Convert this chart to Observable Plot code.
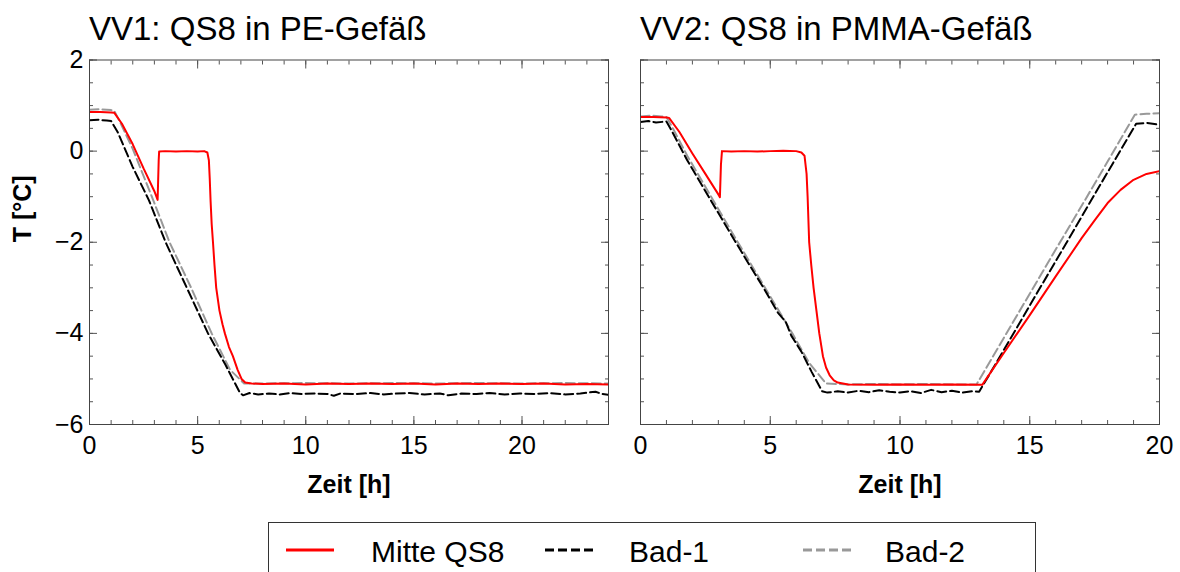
<!DOCTYPE html>
<html><head><meta charset="utf-8">
<script src="https://cdn.jsdelivr.net/npm/d3@7"></script>
<script src="https://cdn.jsdelivr.net/npm/@observablehq/plot@0.6"></script>
<style>
html,body{margin:0;padding:0;background:#fff;overflow:hidden;}
#wrap{position:relative;width:1180px;height:572px;font-family:"Liberation Sans",Arial,Helvetica,sans-serif;color:#000;}
.title{position:absolute;top:12px;font-size:33px;line-height:33px;white-space:nowrap;}
.panel{position:absolute;top:0;}
#legend{position:absolute;left:268px;top:522px;width:768px;height:70px;border:1px solid #333;box-sizing:border-box;}
.lg-text{position:absolute;top:13.6px;font-size:30px;line-height:30px;white-space:nowrap;}
.lg-sw{position:absolute;top:21.5px;}
</style></head>
<body><div id="wrap"></div>
<script>
const fontFamily = '"Liberation Sans", Arial, Helvetica, sans-serif';
const panelTitles = ["VV1: QS8 in PE-Gefäß", "VV2: QS8 in PMMA-Gefäß"];
const seriesNames = ["Mitte QS8", "Bad-1", "Bad-2"];
const seriesColors = ["#ff0000", "#000000", "#999999"];
const seriesDashes = [null, "9,4", "9,4"];
const xLabel = "Zeit [h]";
const yLabel = "T [°C]";

const yDomain = [-6, 2];
const yMajorTicks = [-6, -4, -2, 0, 2];
const yMinorTicks = [-6, -5.5, -5, -4.5, -4, -3.5, -3, -2.5, -2, -1.5, -1, -0.5, 0, 0.5, 1, 1.5, 2];

const vv1XDomain = [0, 24];
const vv1XMajorTicks = [0, 5, 10, 15, 20];
const vv1XMinorTicks = [0,1,2,3,4,5,6,7,8,9,10,11,12,13,14,15,16,17,18,19,20,21,22,23,24];
const vv2XDomain = [0, 20];
const vv2XMajorTicks = [0, 5, 10, 15, 20];
const vv2XMinorTicks = [0,1,2,3,4,5,6,7,8,9,10,11,12,13,14,15,16,17,18,19,20];

// VV1 [Zeit h, T °C]
const vv1Mitte = [[0,0.86],[0.5,0.86],[1.0,0.85],[1.15,0.84],[1.5,0.6],[2.0,0.15],[2.5,-0.38],[3.0,-0.88],[3.15,-1.07],[3.2,-0.2],[3.22,-0.01],[3.5,0.0],[4.0,-0.01],[4.5,0.0],[5.0,-0.01],[5.3,0.0],[5.45,-0.03],[5.52,-0.2],[5.56,-0.6],[5.6,-1.1],[5.65,-1.6],[5.71,-2.0],[5.78,-2.5],[5.86,-3.0],[6.01,-3.5],[6.15,-3.8],[6.26,-4.0],[6.45,-4.3],[6.63,-4.5],[6.85,-4.8],[7.03,-5.0],[7.2,-5.08],[7.5,-5.1],[8,-5.11],[9,-5.1],[10,-5.12],[11,-5.1],[12,-5.11],[13,-5.1],[14,-5.11],[15,-5.1],[16,-5.12],[17,-5.1],[18,-5.11],[19,-5.1],[20,-5.11],[21,-5.1],[22,-5.12],[23,-5.11],[24,-5.12]];
const vv1Bad1 = [[0,0.68],[0.4,0.69],[0.8,0.67],[1.0,0.66],[1.3,0.42],[2.0,-0.35],[2.75,-1.08],[3.52,-2.0],[4.5,-3.0],[5.48,-4.0],[6.3,-4.7],[6.95,-5.3],[7.1,-5.36],[7.4,-5.31],[7.8,-5.34],[8.3,-5.32],[8.8,-5.34],[9.3,-5.31],[9.8,-5.33],[10.4,-5.32],[11.0,-5.33],[11.3,-5.37],[11.6,-5.32],[12.3,-5.33],[13.0,-5.31],[13.6,-5.34],[14.2,-5.32],[14.8,-5.31],[15.5,-5.34],[16.2,-5.32],[16.6,-5.36],[17.2,-5.32],[17.9,-5.33],[18.5,-5.31],[19.2,-5.34],[19.9,-5.32],[20.6,-5.33],[21.3,-5.31],[22.0,-5.34],[22.7,-5.32],[23.4,-5.28],[23.7,-5.33],[24,-5.35]];
const vv1Bad2 = [[0,0.91],[0.5,0.92],[1.0,0.9],[1.15,0.88],[1.45,0.6],[2.0,0.05],[2.95,-1.08],[3.7,-2.0],[4.7,-3.0],[5.65,-4.0],[6.5,-4.8],[7.15,-5.1],[8,-5.1],[10,-5.09],[12,-5.1],[14,-5.09],[16,-5.1],[18,-5.09],[20,-5.1],[22,-5.09],[24,-5.1]];

// VV2 [Zeit h, T °C]
const vv2Mitte = [[0,0.75],[0.5,0.75],[1.0,0.74],[1.1,0.73],[1.5,0.42],[2.0,-0.05],[2.5,-0.5],[3.0,-0.95],[3.06,-1.01],[3.1,-0.3],[3.14,0.0],[3.5,-0.01],[4.0,0.0],[4.5,-0.01],[5.0,0.0],[5.5,0.01],[6.0,0.0],[6.2,-0.03],[6.32,-0.1],[6.4,-0.5],[6.44,-1.0],[6.5,-2.0],[6.58,-2.5],[6.67,-3.0],[6.78,-3.5],[6.89,-4.0],[7.03,-4.5],[7.15,-4.75],[7.29,-4.92],[7.45,-5.03],[7.6,-5.08],[8.0,-5.12],[9,-5.13],[10,-5.12],[11,-5.13],[12,-5.12],[13.17,-5.13],[14,-4.43],[15,-3.6],[16,-2.75],[17,-1.91],[17.5,-1.52],[18,-1.14],[18.5,-0.85],[19.0,-0.63],[19.5,-0.5],[20,-0.44]];
const vv2Bad1 = [[0,0.64],[0.3,0.66],[0.6,0.63],[1.0,0.65],[1.2,0.45],[1.8,-0.2],[2.71,-1.08],[3.2,-1.55],[3.67,-2.0],[4.2,-2.5],[4.74,-3.0],[5.3,-3.55],[5.6,-3.75],[5.81,-4.05],[6.2,-4.4],[6.6,-4.85],[7.0,-5.27],[7.2,-5.3],[7.6,-5.27],[8.0,-5.3],[8.4,-5.26],[8.8,-5.29],[9.2,-5.25],[9.6,-5.28],[10.0,-5.3],[10.4,-5.27],[10.8,-5.31],[11.2,-5.24],[11.6,-5.29],[12.0,-5.26],[12.4,-5.3],[12.8,-5.27],[13.05,-5.28],[13.5,-4.85],[14.5,-3.88],[15.5,-2.9],[16.5,-1.93],[17.5,-0.95],[18.5,0.02],[19.1,0.6],[19.5,0.62],[20,0.58]];
const vv2Bad2 = [[0,0.76],[0.4,0.78],[0.8,0.76],[1.0,0.75],[1.2,0.55],[1.8,-0.1],[2.8,-1.08],[3.75,-2.0],[4.8,-3.0],[5.85,-4.0],[6.5,-4.65],[7.15,-5.1],[8,-5.12],[9,-5.11],[10,-5.12],[11,-5.11],[12,-5.12],[12.95,-5.12],[14,-4.1],[15,-3.13],[16,-2.16],[17,-1.2],[18,-0.23],[19.05,0.8],[19.5,0.82],[20,0.83]];

function panel({width, marginLeft, marginRight, xDomain, xMajor, xMinor, series, yLabels}) {
  const tickStyle = {stroke: "#555", strokeWidth: 1, fill: "none", label: null};
  const marks = [];
  for (const anchor of ["bottom", "top"]) {
    marks.push(Plot.axisX(xMinor, {anchor, tickSize: -4, ...tickStyle}));
    marks.push(Plot.axisX(xMajor, {anchor, tickSize: -8, ...tickStyle}));
  }
  for (const anchor of ["left", "right"]) {
    marks.push(Plot.axisY(yMinorTicks, {anchor, tickSize: -4, ...tickStyle}));
    marks.push(Plot.axisY(yMajorTicks, {anchor, tickSize: -8, ...tickStyle}));
  }
  marks.push(Plot.axisX(xMajor, {anchor: "bottom", tickSize: 0, tickPadding: 12, label: null, fontSize: 25}));
  if (yLabels) marks.push(Plot.axisY(yMajorTicks, {anchor: "left", tickSize: 0, tickPadding: 6, label: null, fontSize: 25}));
  for (const i of [2, 1, 0]) {
    marks.push(Plot.line(series[i], {
      x: d => d[0], y: d => d[1],
      stroke: seriesColors[i], strokeWidth: 2,
      strokeDasharray: seriesDashes[i] || undefined, clip: true
    }));
  }
  marks.push(Plot.frame({stroke: "#444", strokeWidth: 1}));
  marks.push(Plot.text([xLabel], {frameAnchor: "bottom", dy: 60, lineAnchor: "middle", fontWeight: "bold", fontSize: 25}));
  if (yLabels) marks.push(Plot.text([yLabel], {frameAnchor: "left", dx: -66.5, rotate: -90, lineAnchor: "middle", fontWeight: "bold", fontSize: 25}));
  return Plot.plot({
    width, height: 510,
    marginTop: 59.5, marginBottom: 86, marginLeft, marginRight,
    x: {domain: xDomain},
    y: {domain: yDomain},
    style: {fontFamily, fontSize: "25px", color: "#000", background: "transparent", overflow: "visible"},
    marks
  });
}

const wrap = document.getElementById("wrap");

const p1 = panel({width: 620, marginLeft: 89, marginRight: 12, xDomain: vv1XDomain, xMajor: vv1XMajorTicks, xMinor: vv1XMinorTicks, series: [vv1Mitte, vv1Bad1, vv1Bad2], yLabels: true});
const d1 = document.createElement("div"); d1.className = "panel"; d1.style.left = "0px"; d1.appendChild(p1); wrap.appendChild(d1);

const p2 = panel({width: 580, marginLeft: 40, marginRight: 21, xDomain: vv2XDomain, xMajor: vv2XMajorTicks, xMinor: vv2XMinorTicks, series: [vv2Mitte, vv2Bad1, vv2Bad2], yLabels: false});
const d2 = document.createElement("div"); d2.className = "panel"; d2.style.left = "600px"; d2.appendChild(p2); wrap.appendChild(d2);

const titleLefts = [89, 640];
panelTitles.forEach((t, i) => {
  const el = document.createElement("div");
  el.className = "title"; el.style.left = titleLefts[i] + "px"; el.textContent = t;
  wrap.appendChild(el);
});

// legend
const legend = document.createElement("div"); legend.id = "legend"; wrap.appendChild(legend);
const swatchLefts = [17, 276, 534];
const textLefts = [102, 360, 616];
seriesNames.forEach((name, i) => {
  const sw = document.createElementNS("http://www.w3.org/2000/svg", "svg");
  sw.setAttribute("width", 48); sw.setAttribute("height", 10); sw.setAttribute("class", "lg-sw");
  sw.style.left = swatchLefts[i] + "px";
  const ln = document.createElementNS("http://www.w3.org/2000/svg", "line");
  ln.setAttribute("x1", 0); ln.setAttribute("x2", 48); ln.setAttribute("y1", 5); ln.setAttribute("y2", 5);
  ln.setAttribute("stroke", seriesColors[i]); ln.setAttribute("stroke-width", 3);
  if (seriesDashes[i]) ln.setAttribute("stroke-dasharray", seriesDashes[i]);
  sw.appendChild(ln); legend.appendChild(sw);
  const tx = document.createElement("div"); tx.className = "lg-text"; tx.style.left = textLefts[i] + "px"; tx.textContent = name;
  legend.appendChild(tx);
});
</script></body></html>
